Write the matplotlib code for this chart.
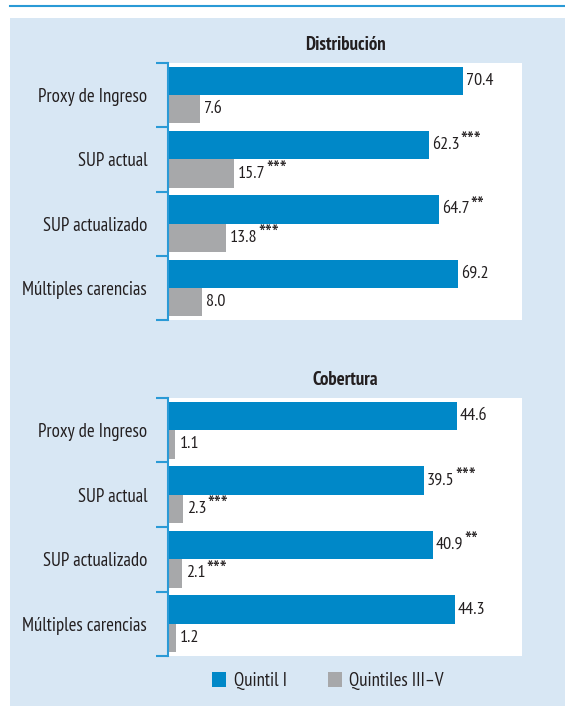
import matplotlib
matplotlib.use("Agg")
import matplotlib.pyplot as plt
from matplotlib.patches import Rectangle, Patch
from matplotlib.lines import Line2D
import numpy as np

plt.rcParams['font.family'] = ['PT Sans Narrow', 'Open Sans Condensed', 'DejaVu Sans']

categories = ["Proxy de Ingreso", "SUP actual", "SUP actualizado", "Múltiples carencias"]

dist_q1 = [70.4, 62.3, 64.7, 69.2]
dist_q35 = [7.6, 15.7, 13.8, 8.0]
dist_q1_sig = ["", "***", "**", ""]
dist_q35_sig = ["", "***", "***", ""]

cob_q1 = [44.6, 39.5, 40.9, 44.3]
cob_q35 = [1.1, 2.3, 2.1, 1.2]
cob_q1_sig = ["", "***", "**", ""]
cob_q35_sig = ["", "***", "***", ""]

series_names = ["Quintil I", "Quintiles III\u2013V"]

BLUE = "#0088c8"
GRAY = "#a7a8aa"
BG = "#d8e7f4"
RULE = "#2a9ad6"
TXT = "#231f20"

W, H = 565, 706
fig = plt.figure(figsize=(W / 100, H / 100), dpi=100)
fig.patch.set_facecolor("white")

# light blue panel and top rule
fig.patches.append(Rectangle((10 / W, 0), 1 - 10 / W, 1 - 18 / H,
                             transform=fig.transFigure, facecolor=BG,
                             edgecolor="none", zorder=-10))
fig.lines.append(Line2D([10 / W, 1], [1 - 6 / H, 1 - 6 / H],
                        transform=fig.transFigure, color=RULE, lw=1.5))


def value_label(ax, x, y, v, stars):
    t = ax.text(x, y, f"{v:.1f}", va="center", ha="left", fontsize=13, color=TXT)
    if stars:
        # stars set a bit larger and raised, as in the original typesetting
        ax.annotate(stars, xy=(1, 0.6), xycoords=t, xytext=(0.3, 0),
                    textcoords="offset points", va="center", ha="left",
                    fontsize=17, color=TXT)


def panel(rect, title, q1, q35, s1, s2, xmax):
    ax = fig.add_axes(rect)
    y = np.arange(len(categories))
    h = 0.44
    ax.barh(y - h / 2, q1, height=h, color=BLUE)
    ax.barh(y + h / 2, q35, height=h, color=GRAY)
    pad = xmax * 0.008
    for yi, v, s in zip(y, q1, s1):
        value_label(ax, v + pad, yi - h / 2, v, s)
    for yi, v, s in zip(y, q35, s2):
        value_label(ax, v + pad * 1.6, yi + h / 2, v, s)
    ax.set_xlim(0, xmax)
    ax.set_ylim(len(categories) - 0.5, -0.5)
    ax.set_facecolor("white")
    for sp in ["top", "right", "bottom"]:
        ax.spines[sp].set_visible(False)
    ax.spines["left"].set_color(RULE)
    ax.spines["left"].set_linewidth(1.5)
    ax.set_xticks([])
    ax.set_yticks(np.arange(len(categories) + 1) - 0.5)
    ax.set_yticklabels([])
    ax.tick_params(axis="y", which="major", length=9, width=1.5,
                   color=RULE, direction="out")
    ax.set_yticks(y, minor=True)
    ax.set_yticklabels(categories, minor=True, fontsize=13.5, color=TXT)
    ax.tick_params(axis="y", which="minor", length=0, pad=15)
    ax.set_title(title, fontsize=13.5, fontweight="bold", color=TXT, pad=9)
    return ax


panel([168 / W, 1 - 320 / H, 354 / W, 257 / H], "Distribución",
      dist_q1, dist_q35, dist_q1_sig, dist_q35_sig, 84.5)
panel([168 / W, 1 - 656 / H, 354 / W, 258 / H], "Cobertura",
      cob_q1, cob_q35, cob_q1_sig, cob_q35_sig, 54.6)

handles = [Patch(facecolor=BLUE, edgecolor="none"),
           Patch(facecolor=GRAY, edgecolor="none")]
fig.legend(handles, series_names, loc="center", ncol=2,
           bbox_to_anchor=(328 / W, 1 - 681 / H), frameon=False,
           fontsize=13.5, handlelength=0.75, handleheight=0.85,
           handletextpad=0.4, columnspacing=2.2, labelcolor=TXT)

fig.savefig("out.png", dpi=100, facecolor=fig.get_facecolor())
